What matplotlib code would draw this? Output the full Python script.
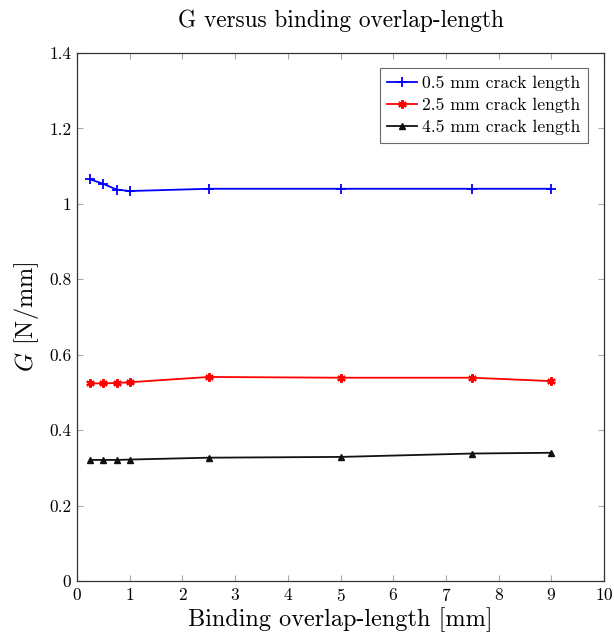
import matplotlib
matplotlib.use("Agg")
import matplotlib.pyplot as plt

plt.rcParams['font.family'] = 'serif'
plt.rcParams['font.serif'] = ['cmr10', 'DejaVu Serif']
plt.rcParams['mathtext.fontset'] = 'cm'
plt.rcParams['axes.formatter.use_mathtext'] = True

overlap = [0.25, 0.5, 0.75, 1.0, 2.5, 5.0, 7.5, 9.0]
g_05 = [1.065, 1.053, 1.038, 1.034, 1.040, 1.040, 1.040, 1.040]
g_25 = [0.524, 0.524, 0.525, 0.527, 0.541, 0.539, 0.539, 0.530]
g_45 = [0.321, 0.321, 0.321, 0.322, 0.327, 0.329, 0.338, 0.340]
labels = ['0.5 mm crack length', '2.5 mm crack length', '4.5 mm crack length']
xticks = list(range(0, 11))
yticks = [0, 0.2, 0.4, 0.6, 0.8, 1.0, 1.2, 1.4]
ytick_labels = ['0', '0.2', '0.4', '0.6', '0.8', '1', '1.2', '1.4']

fig = plt.figure(figsize=(6.14, 6.37), dpi=100)
ax = fig.add_axes([77/614, 1 - 581/637, (604-77)/614, (581-53)/637])

ax.plot(overlap, g_05, color='#0000ff', marker='+', markersize=7, mew=1.3, lw=1.3, label=labels[0])
ax.plot(overlap, g_25, color='#ff0000', marker=(6, 2, 0), markersize=6, mew=1.6, lw=1.3, label=labels[1])
ax.plot(overlap, g_45, color='#111111', marker='^', markersize=5, lw=1.3, label=labels[2])

ax.set_xlim(0, 10)
ax.set_ylim(0, 1.4)
ax.set_xticks(xticks)
ax.set_yticks(yticks)
ax.set_yticklabels(ytick_labels)
ax.tick_params(direction='in', top=True, right=True, length=4, width=0.8, color='#aaaaaa', labelsize=12.5, pad=4)
for s in ax.spines.values():
    s.set_linewidth(0.9)
    s.set_color('#333333')

ax.set_title('G versus binding overlap-length', fontsize=16.8, pad=19)
ax.set_xlabel('Binding overlap-length [mm]', fontsize=17.5, labelpad=3)
ax.set_ylabel(r'$G$ [N/mm]', fontsize=17.5, labelpad=6)

leg = ax.legend(loc='upper right', bbox_to_anchor=(0.97, 0.972), borderaxespad=0, fontsize=12.7, frameon=True,
                fancybox=False, edgecolor='#444444', handlelength=1.65, borderpad=0.45,
                labelspacing=0.38, handletextpad=0.3)
leg.get_frame().set_linewidth(0.8)

fig.savefig('out.png', dpi=100)
